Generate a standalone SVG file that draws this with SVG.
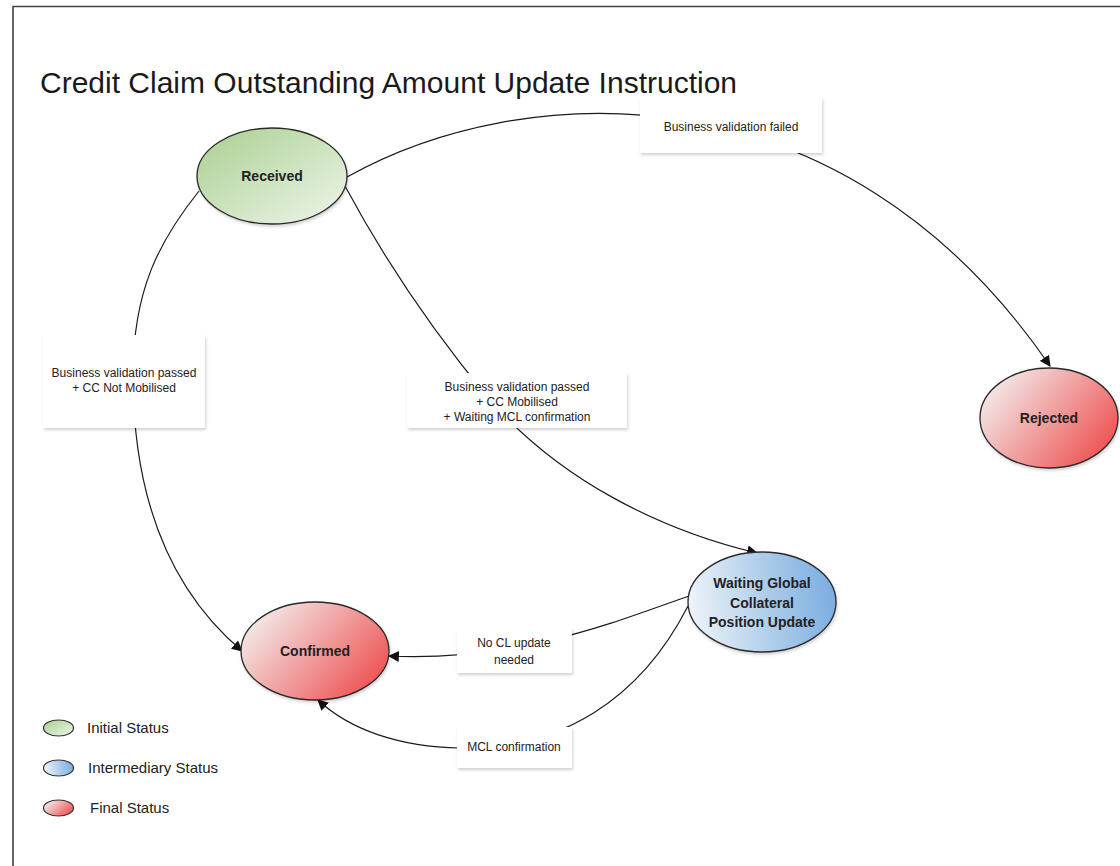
<svg xmlns="http://www.w3.org/2000/svg" width="1120" height="866" viewBox="0 0 1120 866">
<defs>
<linearGradient id="gGreen" x1="0" y1="0" x2="1" y2="1">
<stop offset="0" stop-color="#a9cf8f"/>
<stop offset="1" stop-color="#eff6ec"/>
</linearGradient>
<linearGradient id="gRed" x1="0" y1="0.2" x2="1" y2="0.8">
<stop offset="0" stop-color="#f4f0f0"/>
<stop offset="1" stop-color="#ee4c4c"/>
</linearGradient>
<linearGradient id="gBlue" x1="0" y1="0.5" x2="1" y2="0.4">
<stop offset="0" stop-color="#eef3f9"/>
<stop offset="0.6" stop-color="#a6c8e8"/>
<stop offset="1" stop-color="#7aade0"/>
</linearGradient>
<filter id="shadow" x="-10%" y="-10%" width="125%" height="135%">
<feDropShadow dx="1" dy="2" stdDeviation="1.5" flood-color="#000" flood-opacity="0.18"/>
</filter>
<marker id="arrow" viewBox="0 0 10 10" refX="9" refY="5" markerWidth="11" markerHeight="11" markerUnits="userSpaceOnUse" orient="auto">
<path d="M0,0 L10,5 L0,10 z" fill="#111"/>
</marker>
<style>
.node{stroke:#2a2a2a;stroke-width:1.3}
.ntext{font-family:"Liberation Sans",Arial,sans-serif;font-weight:bold;font-size:14px;fill:#222;text-anchor:middle}
.lbox{fill:#fff;filter:url(#shadow)}
.ltext{font-family:"Liberation Sans",Arial,sans-serif;font-size:12px;fill:#222;text-anchor:middle}
.conn{fill:none;stroke:#1a1a1a;stroke-width:1.2}
.legend{font-family:"Liberation Sans",Arial,sans-serif;font-size:15px;fill:#222}
.leg{stroke:#333;stroke-width:1.2}
</style>
</defs>
<rect x="0" y="0" width="1120" height="866" fill="#fff"/>
<path d="M13,866 L13,6.5 L1120,6.5" fill="none" stroke="#444" stroke-width="1.6"/>
<text x="40" y="93" font-family="Liberation Sans,Arial,sans-serif" font-size="30" fill="#1a1a1a">Credit Claim Outstanding Amount Update Instruction</text>

<g id="connectors">
<path class="conn" d="M347,177 C520,80 840,60 1050,366" marker-end="url(#arrow)"/>
<path class="conn" d="M199,191 C160,240 132,290 133,380 C134,500 170,590 242,651" marker-end="url(#arrow)"/>
<path class="conn" d="M345,186 C390,270 440,340 490,400 C560,480 660,530 757,553" marker-end="url(#arrow)"/>
<path class="conn" d="M689,596 C620,620 520,662 389,656" marker-end="url(#arrow)"/>
<path class="conn" d="M688,606 C640,700 560,750 460,748 C400,747 350,730 318,700" marker-end="url(#arrow)"/>
</g>

<g id="label-failed">
<rect class="lbox" x="640" y="98" width="182" height="55"/>
<text class="ltext" x="731" y="131">Business validation failed</text>
</g>
<g id="label-not-mobilised">
<rect class="lbox" x="43" y="335" width="162" height="93"/>
<text class="ltext" x="124" y="377">Business validation passed</text>
<text class="ltext" x="124" y="392">+ CC Not Mobilised</text>
</g>
<g id="label-mobilised">
<rect class="lbox" x="407" y="373" width="220" height="55"/>
<text class="ltext" x="517" y="391">Business validation passed</text>
<text class="ltext" x="517" y="406">+ CC Mobilised</text>
<text class="ltext" x="517" y="421">+ Waiting MCL confirmation</text>
</g>
<g id="label-no-cl">
<rect class="lbox" x="457" y="628" width="115" height="45"/>
<text class="ltext" x="514" y="647">No CL update</text>
<text class="ltext" x="514" y="664">needed</text>
</g>
<g id="label-mcl">
<rect class="lbox" x="457" y="727" width="115" height="41"/>
<text class="ltext" x="514" y="751">MCL confirmation</text>
</g>

<g id="node-received">
<ellipse class="node" cx="272" cy="176" rx="75" ry="48" fill="url(#gGreen)" filter="url(#shadow)"/>
<text class="ntext" x="272" y="181">Received</text>
</g>
<g id="node-rejected">
<ellipse class="node" cx="1049" cy="418" rx="69" ry="50" fill="url(#gRed)" filter="url(#shadow)"/>
<text class="ntext" x="1049" y="423">Rejected</text>
</g>
<g id="node-confirmed">
<ellipse class="node" cx="315" cy="651" rx="74" ry="49" fill="url(#gRed)" filter="url(#shadow)"/>
<text class="ntext" x="315" y="656">Confirmed</text>
</g>
<g id="node-waiting">
<ellipse class="node" cx="762" cy="602" rx="74" ry="50" fill="url(#gBlue)" filter="url(#shadow)"/>
<text class="ntext" x="762" y="588">Waiting Global</text>
<text class="ntext" x="762" y="608">Collateral</text>
<text class="ntext" x="762" y="627">Position Update</text>
</g>

<g id="legend">
<ellipse class="leg" cx="58.5" cy="728" rx="15" ry="8" fill="url(#gGreen)"/>
<text class="legend" x="87" y="733">Initial Status</text>
<ellipse class="leg" cx="58.5" cy="768" rx="15" ry="8" fill="url(#gBlue)"/>
<text class="legend" x="88" y="773">Intermediary Status</text>
<ellipse class="leg" cx="58.5" cy="808" rx="15" ry="8" fill="url(#gRed)"/>
<text class="legend" x="90" y="813">Final Status</text>
</g>
</svg>
